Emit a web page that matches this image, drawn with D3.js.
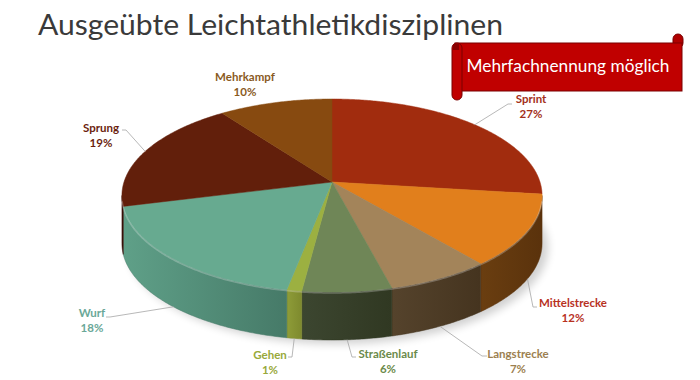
<!DOCTYPE html>
<html>
<head>
<meta charset="utf-8">
<script src="https://cdn.jsdelivr.net/npm/d3@7"></script>
<style>
  html, body { margin: 0; padding: 0; background: #fff; }
  svg { display: block; font-family: Lato, "Open Sans", sans-serif; }
</style>
</head>
<body>
<div id="chart"></div>
<script>
// Data
const categories = ["Sprint", "Mittelstrecke", "Langstrecke", "Straßenlauf", "Gehen", "Wurf", "Sprung", "Mehrkampf"];
const values = [27, 12, 7, 6, 1, 18, 19, 10];

// Palette
const topColors   = ["#a12c0e", "#e17f1c", "#a3845a", "#6f8657", "#9cb041", "#67aa90", "#621f0b", "#874a10"];
const sideLight   = ["#6a1d0a", "#6a3e10", "#55432c", "#3c4630", "#8e9c38", "#5fa088", "#40140a", "#57300a"];
const sideDark    = ["#5a1808", "#5a320c", "#45341f", "#303822", "#7e8a2e", "#467a68", "#35100a", "#4a2808"];
const labelColors = ["#a3301a", "#b8321f", "#9c7f50", "#6b8a4a", "#98a93a", "#6aa898", "#6b1e0e", "#8a5a1e"];

// Label layout: name centre / baseline, leader elbow and end (null = no leader)
const labelLayout = [
  {x: 531, y: 103, elbow: [508, 104], end: [512, 104]},
  {x: 573, y: 307, elbow: [533, 307], end: [537, 307]},
  {x: 518, y: 358, elbow: [482, 356], end: [487, 356]},
  {x: 388, y: 358, elbow: [352, 357], end: [356, 357]},
  {x: 270, y: 359, elbow: [292, 357], end: [288, 357]},
  {x: 92,  y: 317, elbow: [110, 317], end: [106, 317]},
  {x: 101, y: 132, elbow: [126, 130], end: [122, 130]},
  {x: 245, y: 81,  elbow: null, end: null}
];

const W = 700, H = 380;
const svg = d3.select("#chart").append("svg")
    .attr("width", W).attr("height", H);

const defs = svg.append("defs");

// Perspective pie geometry
const cx = 332, cy = 182, Rx = 208, Ry = 94.6, k = 0.14, depth = 48;
function proj(a, dz = 0) {
  const u = Math.sin(a), v = Math.cos(a), s = 1 / (1 + k * v);
  return [cx + Rx * u * s, cy - Ry * v * s + dz];
}
function arcPoints(a0, a1, dz) {
  const n = Math.max(2, Math.ceil(Math.abs(a1 - a0) / 0.01));
  return d3.range(n + 1).map(i => proj(a0 + (a1 - a0) * i / n, dz));
}
const line = d3.line();

const arcs = d3.pie().sort(null).value(d => d)(values);

// Title
svg.append("text")
    .attr("x", 38).attr("y", 35)
    .attr("textLength", 465).attr("lengthAdjust", "spacingAndGlyphs")
    .style("font-size", "29px").style("font-weight", 400)
    .style("fill", "#3a3a3a")
    .text("Ausgeübte Leichtathletikdisziplinen");

// Shadow
defs.append("filter").attr("id", "blur")
    .attr("x", "-20%").attr("y", "-20%").attr("width", "140%").attr("height", "140%")
  .append("feGaussianBlur").attr("stdDeviation", 4);

svg.append("path")
    .attr("d", line(arcPoints(0, 2 * Math.PI, depth + 4)) + "Z")
    .attr("transform", "translate(6,0)")
    .style("fill", "#000").style("opacity", 0.18)
    .attr("filter", "url(#blur)");

// Sides (front half only)
const aR = Math.acos(-k), aL = 2 * Math.PI - aR;
const sides = svg.append("g");
arcs.forEach((d, i) => {
  const lo = Math.max(d.startAngle, aR), hi = Math.min(d.endAngle, aL);
  if (lo >= hi) return;
  const g = defs.append("linearGradient").attr("id", "side" + i)
      .attr("x1", "0%").attr("x2", "100%").attr("y1", "0%").attr("y2", "0%");
  g.append("stop").attr("offset", "0%").attr("stop-color", sideLight[i]);
  g.append("stop").attr("offset", "100%").attr("stop-color", sideDark[i]);
  const pts = arcPoints(lo, hi, 0).concat(arcPoints(hi, lo, depth));
  sides.append("path")
      .attr("d", line(pts) + "Z")
      .style("fill", `url(#side${i})`)
      .style("stroke", sideDark[i]).style("stroke-width", 0.5);
});

// Top faces
const tops = svg.append("g");
arcs.forEach((d, i) => {
  const pts = [[cx, cy]].concat(arcPoints(d.startAngle, d.endAngle, 0));
  tops.append("path")
      .attr("d", line(pts) + "Z")
      .style("fill", topColors[i])
      .style("stroke", topColors[i]).style("stroke-width", 0.5);
});

// Rim highlight along the front edge
svg.append("path")
    .attr("d", line(arcPoints(aR + 0.05, aL - 0.05, 1)))
    .style("fill", "none")
    .style("stroke", "#fff").style("stroke-opacity", 0.25).style("stroke-width", 1.5);

// Leader lines
arcs.forEach((d, i) => {
  const L = labelLayout[i];
  if (!L.elbow) return;
  const mid = (d.startAngle + d.endAngle) / 2;
  const front = mid > aR && mid < aL;
  const p = proj(mid, front ? depth : 0);
  svg.append("path")
      .attr("d", line([p, L.elbow, L.end]))
      .style("fill", "none").style("stroke", "#a6a6a6").style("stroke-width", 0.8);
});

// Labels
categories.forEach((c, i) => {
  const L = labelLayout[i];
  const t = svg.append("text")
      .attr("text-anchor", "middle")
      .style("font-size", "11.5px").style("font-weight", "bold")
      .style("fill", labelColors[i]);
  t.append("tspan").attr("x", L.x).attr("y", L.y).text(c);
  t.append("tspan").attr("x", L.x).attr("y", L.y + 15).text(values[i] + "%");
});

// Banner (scroll)
const banner = svg.append("g");
banner.append("rect")
    .attr("x", 673).attr("y", 34).attr("width", 10).attr("height", 14).attr("rx", 5)
    .style("fill", "#b00000").style("stroke", "#7a0000");
banner.append("rect")
    .attr("x", 455).attr("y", 43).attr("width", 227).attr("height", 48)
    .style("fill", "#c00000").style("stroke", "#7a0000");
banner.append("rect")
    .attr("x", 452).attr("y", 43).attr("width", 10).attr("height", 57).attr("rx", 5)
    .style("fill", "#c00000").style("stroke", "#7a0000");
banner.append("rect")
    .attr("x", 453).attr("y", 44).attr("width", 6).attr("height", 6)
    .style("fill", "#8a0000");
banner.append("text")
    .attr("x", 568).attr("y", 72)
    .attr("text-anchor", "middle")
    .attr("textLength", 203).attr("lengthAdjust", "spacingAndGlyphs")
    .style("font-size", "17px").style("fill", "#fff")
    .text("Mehrfachnennung möglich");
</script>
</body>
</html>
